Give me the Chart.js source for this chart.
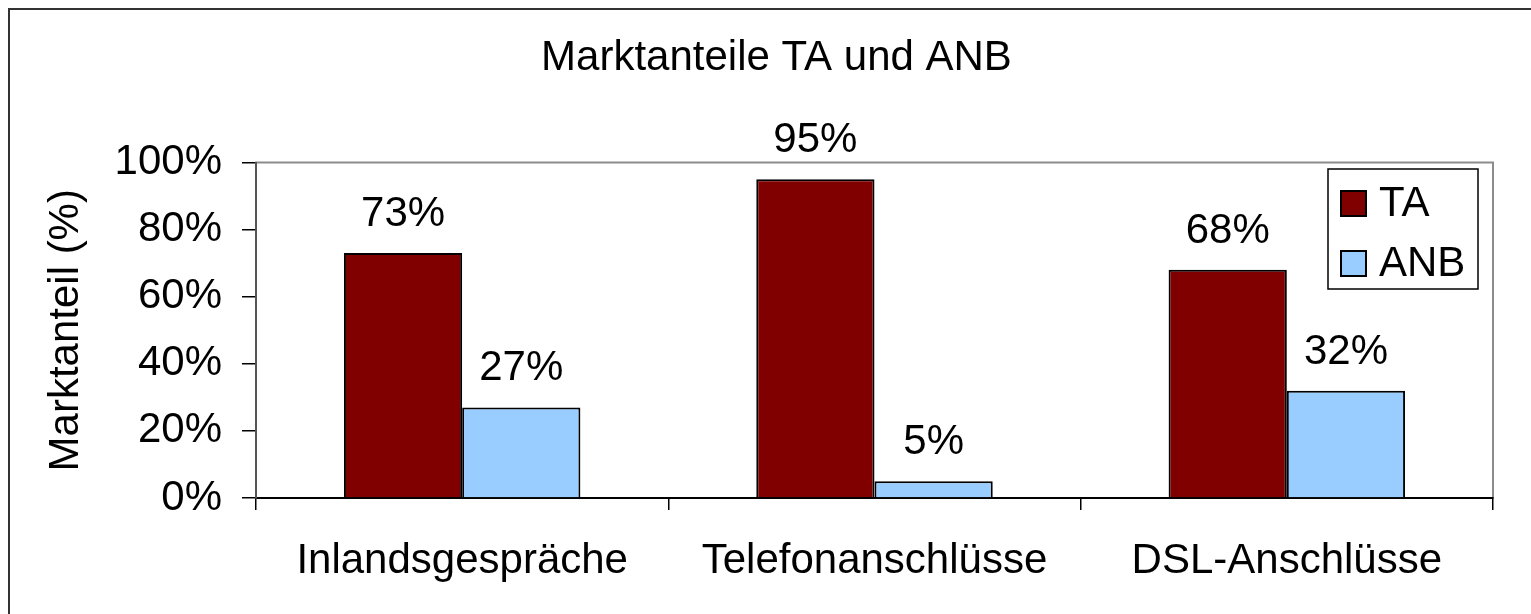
<!DOCTYPE html>
<html>
<head>
<meta charset="utf-8">
<script src="https://cdn.jsdelivr.net/npm/chart.js@4/dist/chart.umd.min.js"></script>
<style>
  html, body { margin: 0; padding: 0; background: #fff; overflow: hidden; }
  #wrap { position: relative; width: 1531px; height: 614px; }
  #frame {
    position: absolute; left: 8px; top: 8px; width: 1600px; height: 700px;
    border-top: 2px solid #333; border-left: 2px solid #333; pointer-events: none;
  }
</style>
</head>
<body>
<div id="wrap">
  <canvas id="marktChart" width="1531" height="614"></canvas>
  <div id="frame"></div>
</div>
<script>
const titel = 'Marktanteile TA und ANB';
const achsenTitel = 'Marktanteil (%)';
const kategorien = ['Inlandsgespräche', 'Telefonanschlüsse', 'DSL-Anschlüsse'];
const serienNamen = ['TA', 'ANB'];
const werteTA = [73, 95, 68];
const werteANB = [27, 5, 32];
const farben = ['#800000', '#99CCFF'];

const FONT = '"Liberation Sans", Arial, sans-serif';
const GROESSE = 42;
Chart.defaults.font.family = FONT;
Chart.defaults.font.size = GROESSE;
Chart.defaults.color = '#000';

// Titel, über der ganzen Diagrammfläche zentriert
const titelPlugin = {
  id: 'titel',
  afterDraw(chart) {
    const ctx = chart.ctx;
    ctx.save();
    ctx.font = GROESSE + 'px ' + FONT;
    ctx.fillStyle = '#000';
    ctx.textAlign = 'center';
    ctx.textBaseline = 'alphabetic';
    ctx.fillText(titel, 776.5, 70);
    ctx.restore();
  }
};

// grauer Rahmen der Zeichnungsfläche
const rahmenPlugin = {
  id: 'rahmen',
  beforeDraw(chart) {
    const a = chart.chartArea;
    const ctx = chart.ctx;
    ctx.save();
    ctx.strokeStyle = '#8c8c8c';
    ctx.lineWidth = 2;
    ctx.strokeRect(a.left, a.top, a.right - a.left, a.bottom - a.top);
    ctx.restore();
  }
};

// Prozentwerte über den Balken
const werteLabels = {
  id: 'werteLabels',
  afterDatasetsDraw(chart) {
    const ctx = chart.ctx;
    ctx.save();
    ctx.font = GROESSE + 'px ' + FONT;
    ctx.fillStyle = '#000';
    ctx.textAlign = 'center';
    ctx.textBaseline = 'alphabetic';
    chart.data.datasets.forEach((ds, i) => {
      chart.getDatasetMeta(i).data.forEach((bar, j) => {
        ctx.fillText(ds.data[j] + '%', bar.x, bar.y - 27);
      });
    });
    ctx.restore();
  }
};

// Legende mit Rahmen innerhalb der Zeichnungsfläche
const legendePlugin = {
  id: 'legende',
  afterDraw(chart) {
    const ctx = chart.ctx;
    const x = 1328, y = 169, w = 150, h = 120;
    ctx.save();
    ctx.fillStyle = '#fff';
    ctx.fillRect(x, y, w, h);
    ctx.strokeStyle = '#000';
    ctx.lineWidth = 1.5;
    ctx.strokeRect(x, y, w, h);
    ctx.font = GROESSE + 'px ' + FONT;
    ctx.textBaseline = 'alphabetic';
    ctx.textAlign = 'left';
    chart.data.datasets.forEach((ds, i) => {
      const sy = y + 22 + i * 60;
      ctx.fillStyle = ds.backgroundColor;
      ctx.fillRect(x + 13, sy, 25, 25);
      ctx.strokeStyle = '#000';
      ctx.lineWidth = 2;
      ctx.strokeRect(x + 13, sy, 25, 25);
      ctx.fillStyle = '#000';
      ctx.fillText(ds.label, x + 51, sy + 25);
    });
    ctx.restore();
  }
};

new Chart(document.getElementById('marktChart'), {
  type: 'bar',
  data: {
    labels: kategorien,
    datasets: [
      { label: serienNamen[0], data: werteTA, backgroundColor: farben[0], borderColor: '#000', borderWidth: 2 },
      { label: serienNamen[1], data: werteANB, backgroundColor: farben[1], borderColor: '#000', borderWidth: 2 }
    ]
  },
  options: {
    responsive: false,
    animation: false,
    events: [],
    layout: { padding: { left: 22, right: 38, top: 162.5, bottom: 0 } },
    datasets: { bar: { categoryPercentage: 0.5735, barPercentage: 1 } },
    plugins: {
      legend: { display: false },
      title: { display: false },
      tooltip: { enabled: false }
    },
    scales: {
      x: {
        grid: { drawOnChartArea: false, drawTicks: true, tickLength: 12, color: '#000', lineWidth: 1.5 },
        border: { color: '#000', width: 2 },
        ticks: { padding: 26, maxRotation: 0 },
        afterFit(scale) { scale.height = 116; }
      },
      y: {
        min: 0,
        max: 100,
        grid: { drawOnChartArea: false, drawTicks: true, tickLength: 14, color: '#000', lineWidth: 1.5 },
        border: { color: '#555', width: 2 },
        ticks: { stepSize: 20, padding: 20, callback: (v) => v + '%' },
        title: { display: true, text: achsenTitel, padding: { top: 19, bottom: 0 } },
        afterFit(scale) { scale.width = 234; }
      }
    }
  },
  plugins: [rahmenPlugin, werteLabels, legendePlugin, titelPlugin]
});
</script>
</body>
</html>
